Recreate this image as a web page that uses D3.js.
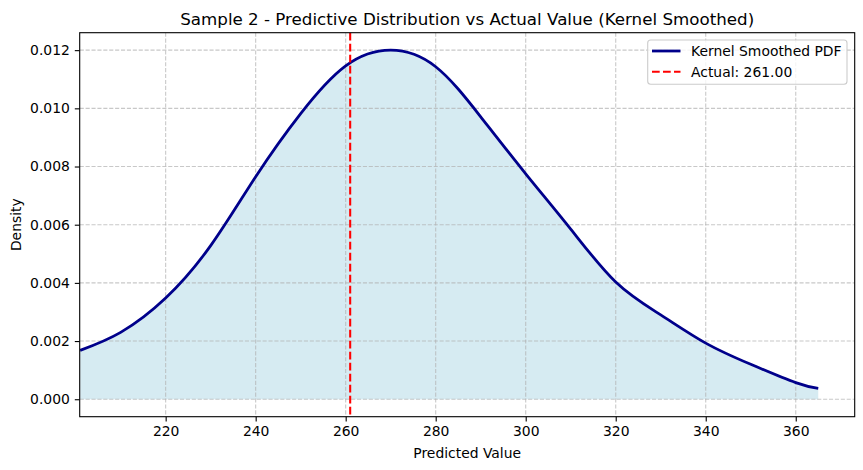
<!DOCTYPE html>
<html>
<head>
<meta charset="utf-8">
<script src="https://cdn.jsdelivr.net/npm/d3@7"></script>
<style>
  html, body { margin: 0; padding: 0; background: #fff; }
  svg { display: block; font-family: "DejaVu Sans", sans-serif; }
</style>
</head>
<body>
<svg id="chart" width="863" height="470"></svg>
<script>
// ---- data ----
const xValues = [201, 210, 220, 230, 240, 250, 260, 270, 280, 290, 300, 310, 320, 330, 340, 350, 360, 365];
const densityValues = [0.00168, 0.00230, 0.00348, 0.00528, 0.00765, 0.00982, 0.01146, 0.01200, 0.01143,
                       0.00971, 0.00775, 0.00585, 0.00403, 0.00290, 0.00193, 0.00120, 0.00057, 0.00037];
const actualValue = 261.00;
const xTicks = [220, 240, 260, 280, 300, 320, 340, 360];
const yTicks = [0.000, 0.002, 0.004, 0.006, 0.008, 0.010, 0.012];
const xDomain = [200.9, 373.1];
const yDomain = [-0.0006, 0.0126];
const titleText = "Sample 2 - Predictive Distribution vs Actual Value (Kernel Smoothed)";
const xLabel = "Predicted Value";
const yLabel = "Density";
const legendLabels = ["Kernel Smoothed PDF", "Actual: " + actualValue.toFixed(2)];

const data = xValues.map((x, i) => ({x, y: densityValues[i]}));

// ---- layout ----
const L = 79.7, R = 854.7, T = 32.7, B = 416.7;
const svg = d3.select("#chart");
const x = d3.scaleLinear().domain(xDomain).range([L, R]);
const y = d3.scaleLinear().domain(yDomain).range([B, T]);

svg.append("defs").append("clipPath").attr("id", "clip")
  .append("rect").attr("x", L).attr("y", T).attr("width", R - L).attr("height", B - T);

const plot = svg.append("g").attr("clip-path", "url(#clip)");

const curve = d3.curveNatural;

// fill
const area = d3.area().x(d => x(d.x)).y0(y(0)).y1(d => y(d.y)).curve(curve);
plot.append("path").datum(data).attr("d", area)
  .attr("fill", "#add8e6").attr("fill-opacity", 0.5);

// grid (above fill, like matplotlib)
const gridColor = "#b0b0b0";
plot.append("g").selectAll("line").data(xTicks).join("line")
  .attr("x1", d => x(d)).attr("x2", d => x(d)).attr("y1", T).attr("y2", B)
  .attr("stroke", gridColor).attr("stroke-opacity", 0.7).attr("stroke-width", 1.1)
  .attr("stroke-dasharray", "4.1,1.8");
plot.append("g").selectAll("line").data(yTicks).join("line")
  .attr("x1", L).attr("x2", R).attr("y1", d => y(d)).attr("y2", d => y(d))
  .attr("stroke", gridColor).attr("stroke-opacity", 0.7).attr("stroke-width", 1.1)
  .attr("stroke-dasharray", "4.1,1.8");

// pdf line
const line = d3.line().x(d => x(d.x)).y(d => y(d.y)).curve(curve);
plot.append("path").datum(data).attr("d", line)
  .attr("fill", "none").attr("stroke", "#00008b").attr("stroke-width", 2.78)
  .attr("stroke-linejoin", "round");

// actual line
plot.append("line")
  .attr("x1", x(actualValue)).attr("x2", x(actualValue)).attr("y1", T).attr("y2", B)
  .attr("stroke", "red").attr("stroke-width", 2.08).attr("stroke-dasharray", "7.7,3.3");

// axes
const xAxis = d3.axisBottom(x).tickValues(xTicks).tickFormat(d3.format("d"))
  .tickSizeInner(4.9).tickSizeOuter(0).tickPadding(4.9);
const yAxis = d3.axisLeft(y).tickValues(yTicks).tickFormat(d3.format(".3f"))
  .tickSizeInner(4.9).tickSizeOuter(0).tickPadding(4.9);

const gx = svg.append("g").attr("transform", `translate(0,${B})`).call(xAxis);
const gy = svg.append("g").attr("transform", `translate(${L},0)`).call(yAxis);
[gx, gy].forEach(g => {
  g.select(".domain").remove();
  g.selectAll(".tick line").attr("stroke", "#000").attr("stroke-width", 1.1);
  g.selectAll(".tick text").attr("fill", "#000").attr("font-size", 13.9)
    .attr("font-family", "DejaVu Sans, sans-serif");
});

// frame
svg.append("rect").attr("x", L).attr("y", T).attr("width", R - L).attr("height", B - T)
  .attr("fill", "none").attr("stroke", "#000").attr("stroke-width", 1.1);

// title and labels
svg.append("text").attr("x", (L + R) / 2).attr("y", 24.5).attr("text-anchor", "middle")
  .attr("font-size", 16.7).text(titleText);
svg.append("text").attr("x", (L + R) / 2).attr("y", 458).attr("text-anchor", "middle")
  .attr("font-size", 13.9).text(xLabel);
svg.append("text").attr("transform", `translate(21,${(T + B) / 2}) rotate(-90)`)
  .attr("text-anchor", "middle").attr("font-size", 13.9).text(yLabel);

// legend
const lg = svg.append("g");
lg.append("rect").attr("x", 647.7).attr("y", 40).attr("width", 199.3).attr("height", 44.3)
  .attr("rx", 3).attr("fill", "#fff").attr("fill-opacity", 0.8)
  .attr("stroke", "#cccccc").attr("stroke-width", 1.1);
lg.append("line").attr("x1", 652).attr("x2", 680.5).attr("y1", 51).attr("y2", 51)
  .attr("stroke", "#00008b").attr("stroke-width", 2.78);
lg.append("line").attr("x1", 652).attr("x2", 680.5).attr("y1", 71.7).attr("y2", 71.7)
  .attr("stroke", "red").attr("stroke-width", 2.08).attr("stroke-dasharray", "7.7,3.3");
lg.append("text").attr("x", 691).attr("y", 55.9).attr("font-size", 13.9).text(legendLabels[0]);
lg.append("text").attr("x", 691).attr("y", 76.6).attr("font-size", 13.9).text(legendLabels[1]);
</script>
</body>
</html>
